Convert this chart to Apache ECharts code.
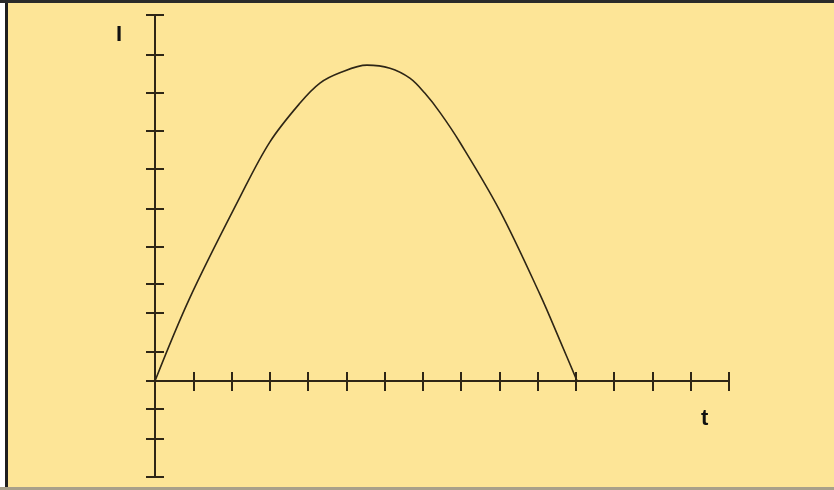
<!DOCTYPE html>
<html>
<head>
<meta charset="utf-8">
<title>I over t</title>
<script src="https://cdn.jsdelivr.net/npm/echarts@6/dist/echarts.min.js"></script>
<style>
  html, body { margin: 0; padding: 0; background: #fff; }
  #chart { width: 834px; height: 490px; }
</style>
</head>
<body>
<div id="chart"></div>
<script>
// curve samples (x in tick units, y in the same scale)
const tValues = [0, 0.91, 2.22, 3.0, 3.79, 4.31, 4.83, 5.54, 6.14, 6.66, 7.05, 7.45, 7.97, 9.01, 10.06, 10.58, 11.03];
const iValues = [0, 2.17, 4.8, 6.24, 7.26, 7.78, 8.05, 8.25, 8.17, 7.91, 7.52, 7.01, 6.23, 4.45, 2.26, 1.06, 0];

// the vertical ticks are not evenly spaced in the original drawing
const iTicks = [9.56, 8.51, 7.52, 6.53, 5.54, 4.49, 3.5, 2.53, 1.78, 0.76, 0, -0.73, -1.51, -2.51];

const axisColor = "#2e2616";
const bg = "#fde597";

const points = tValues.map((t, i) => [t, iValues[i]]);

const xBase = {
  type: "value",
  min: 0,
  max: 15,
  interval: 1,
  position: "bottom",
  axisLabel: { show: false },
  splitLine: { show: false }
};

const yBase = {
  type: "value",
  min: -2.51,
  max: 9.56,
  position: "left",
  axisLabel: { show: false, customValues: iTicks },
  splitLine: { show: false }
};

const option = {
  backgroundColor: bg,
  animation: false,
  grid: { left: 155, right: 105, top: 15, bottom: 13 },
  xAxis: [
    Object.assign({}, xBase, {
      axisLine: { onZero: true, lineStyle: { color: axisColor, width: 2 } },
      axisTick: { show: true, inside: false, length: 10, lineStyle: { color: axisColor, width: 2 } }
    }),
    Object.assign({}, xBase, {
      axisLine: { show: false, onZero: true },
      axisTick: { show: true, inside: true, length: 9, lineStyle: { color: axisColor, width: 2 } }
    })
  ],
  yAxis: [
    Object.assign({}, yBase, {
      axisLine: { onZero: true, lineStyle: { color: axisColor, width: 2 } },
      axisTick: { show: true, inside: false, length: 9, customValues: iTicks, lineStyle: { color: axisColor, width: 2 } }
    }),
    Object.assign({}, yBase, {
      axisLine: { show: false, onZero: true },
      axisTick: { show: true, inside: true, length: 9, customValues: iTicks, lineStyle: { color: axisColor, width: 2 } }
    })
  ],
  graphic: [
    // frame of the original picture
    { type: "rect", shape: { x: 0, y: 0, width: 5, height: 490 }, style: { fill: "#ffffff" }, silent: true },
    { type: "rect", shape: { x: 5, y: 0, width: 3, height: 490 }, style: { fill: "#1e1e1e" }, silent: true },
    { type: "rect", shape: { x: 0, y: 0, width: 834, height: 3 }, style: { fill: "#2a2a2a" }, silent: true },
    { type: "rect", shape: { x: 0, y: 487, width: 834, height: 3 }, style: { fill: "#a8a08a" }, silent: true },
    // axis names
    { type: "text", left: 116, top: 24, style: { text: "I", font: "bold 22px 'Liberation Sans', Arial, sans-serif", fill: "#111" } },
    { type: "text", left: 701, top: 408, style: { text: "t", font: "bold 22px 'Liberation Sans', Arial, sans-serif", fill: "#111" } }
  ],
  series: [
    {
      type: "line",
      xAxisIndex: 0,
      yAxisIndex: 0,
      data: points,
      smooth: 0.35,
      symbol: "none",
      lineStyle: { color: axisColor, width: 1.6 }
    }
  ]
};

const chart = echarts.init(document.getElementById("chart"));
chart.setOption(option);
</script>
</body>
</html>
